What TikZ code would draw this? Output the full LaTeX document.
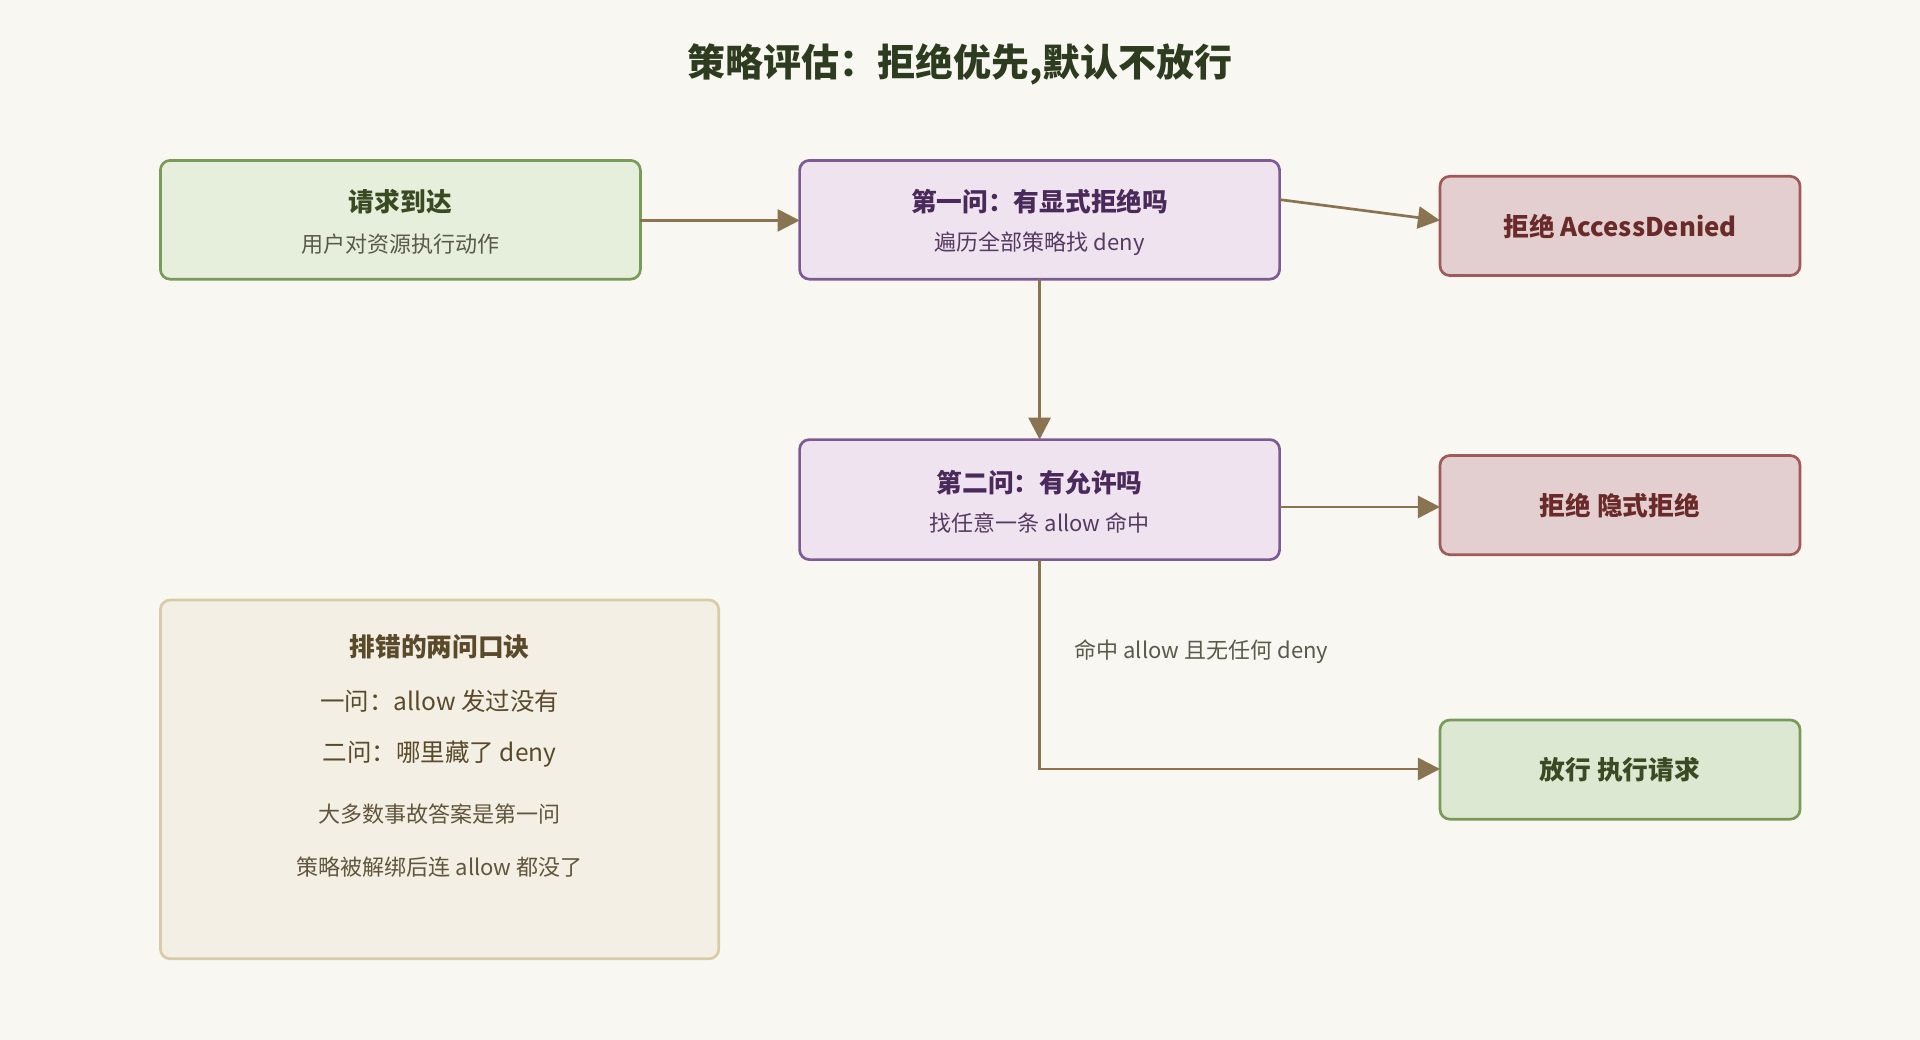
\documentclass[tikz,border=0pt]{standalone}
\usepackage{fontspec}
\setmainfont{Noto Sans CJK SC}
\usetikzlibrary{arrows.meta}
\definecolor{bg}{HTML}{F8F7F2}
\definecolor{gfill}{HTML}{E6EFDC}\definecolor{gdraw}{HTML}{7A9A5A}
\definecolor{gfill2}{HTML}{DDE8D2}
\definecolor{pfill}{HTML}{F0E3F0}\definecolor{pdraw}{HTML}{7E5A94}
\definecolor{rfill}{HTML}{E3CFCF}\definecolor{rdraw}{HTML}{A05A5A}
\definecolor{nfill}{HTML}{F3EFE4}\definecolor{ndraw}{HTML}{D8CBA8}
\definecolor{arr}{HTML}{8A7350}
\definecolor{titlec}{HTML}{2D3B1F}
\definecolor{gtext}{HTML}{3A4A22}\definecolor{ptext}{HTML}{4A2A5A}\definecolor{rtext}{HTML}{6A2A2A}
\definecolor{ntext}{HTML}{5A4A2A}\definecolor{sub}{HTML}{5A5A4A}
\begin{document}
\begin{tikzpicture}[x=1pt,y=-1pt,
 box/.style={rounded corners=8pt,line width=2.2pt,inner sep=0pt},
 a/.style={draw=arr,line width=2.2pt,-{Triangle[length=18pt,width=18pt]}},
 h/.style={font=\fontsize{21}{24}\selectfont\bfseries},
 s/.style={font=\fontsize{18}{22}\selectfont}]
\fill[bg] (0,0) rectangle (1568,849);
\node[font=\fontsize{31}{36}\selectfont\bfseries,text=titlec] (title) at (784,53) {策略评估：拒绝优先,默认不放行};
% boxes
\draw[box,fill=gfill,draw=gdraw] (131,131) rectangle (523,228);
\node (b1) at (327,180) [minimum width=392pt,minimum height=97pt] {};
\node[h,text=gtext] at (327,165) {请求到达};
\node[s,text=sub] at (327,199) {用户对资源执行动作};
\draw[box,fill=pfill,draw=pdraw] (653,131) rectangle (1045,228);
\node (b2) at (849,180) [minimum width=392pt,minimum height=97pt] {};
\node[h,text=ptext] at (849,165) {第一问：有显式拒绝吗};
\node[s,text=ptext!80!gray] at (849,199) {遍历全部策略找 deny};
\draw[box,fill=rfill,draw=rdraw] (1176,144) rectangle (1470,225);
\node[h,text=rtext] (b3) at (1323,185) {拒绝 AccessDenied};
\draw[box,fill=pfill,draw=pdraw] (653,359) rectangle (1045,457);
\node (b4) at (849,408) [minimum width=392pt,minimum height=98pt] {};
\node[h,text=ptext] at (849,394) {第二问：有允许吗};
\node[s,text=ptext!80!gray] at (849,427) {找任意一条 allow 命中};
\draw[box,fill=rfill,draw=rdraw] (1176,372) rectangle (1470,453);
\node[h,text=rtext] (b5) at (1323,413) {拒绝 隐式拒绝};
\draw[box,fill=gfill2,draw=gdraw] (1176,588) rectangle (1470,669);
\node[h,text=gtext] (b6) at (1323,629) {放行 执行请求};
% note
\draw[box,fill=nfill,draw=ndraw] (131,490) rectangle (587,783);
\node[h,text=ntext] (n1) at (359,528) {排错的两问口诀};
\node[s,font=\fontsize{20}{24}\selectfont,text=ntext] (n2) at (359,573) {一问：allow 发过没有};
\node[s,font=\fontsize{20}{24}\selectfont,text=ntext] (n3) at (359,616) {二问：哪里藏了 deny};
\node[s,text=ntext!80!gray] (n4) at (359,665) {大多数事故答案是第一问};
\node[s,text=ntext!80!gray] (n5) at (359,708) {策略被解绑后连 allow 都没了};
% arrows
\coordinate (c1) at (1176,180);
\coordinate (c2) at (849,359);
\coordinate (c3) at (1176,414);
\coordinate (c4) at (849,628);
\coordinate (c5) at (1176,628);
\draw[a] (523,180) -- (653,180);
\draw[a] (1045,163) -- (c1);
\draw[a] (849,228) -- (c2);
\draw[a] (1045,414) -- (c3);
\draw[a] (849,457) -- (c4) -- (c5);
\node[s,text=sub,anchor=west] (lab) at (874,532) {命中 allow 且无任何 deny};
\end{tikzpicture}
\end{document}
